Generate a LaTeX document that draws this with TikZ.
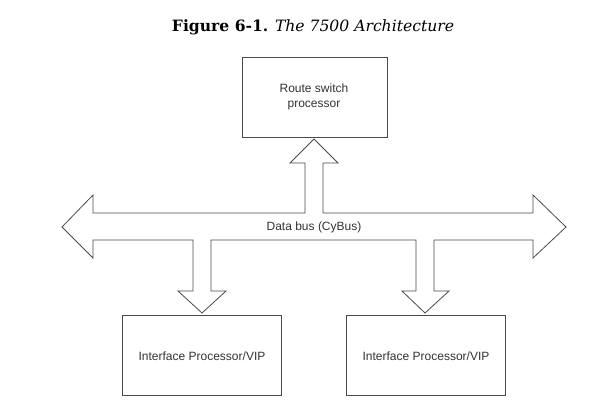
\documentclass[tikz,border=0pt]{standalone}
\usepackage{fontspec}
\newfontfamily\boxfont{Liberation Sans}
\newfontfamily\titlefont{DejaVu Serif}
\definecolor{linegray}{HTML}{4A4A4A}
\definecolor{textgray}{HTML}{333333}
\begin{document}
\begin{tikzpicture}[x=1pt,y=-1pt,
  unitbox/.style={draw=linegray,line width=0.8pt,fill=white,minimum width=#1,inner sep=0pt},
  boxtext/.style={font=\boxfont\fontsize{12}{14.7}\selectfont,text=textgray,align=center},
  busshape/.style={draw=linegray,line width=0.8pt,fill=white,line join=miter}]
\useasboundingbox (0,0) rectangle (598,416);
\node[font=\titlefont\fontsize{15.6}{18}\selectfont] (title) at (313,27.5) {\textbf{Figure 6-1.} \textit{The 7500 Architecture}};
\node[unitbox=145pt,minimum height=80pt] (rsp) at (314.5,97.5) {};
\node[boxtext] (rsptext) at (314,96.7) {Route switch\\processor};
\node[unitbox=159pt,minimum height=80pt] (ip1) at (202,355) {};
\node[boxtext] (ip1text) at (202,356.7) {Interface Processor/VIP};
\node[unitbox=159pt,minimum height=80pt] (ip2) at (426,355) {};
\node[boxtext] (ip2text) at (426,356.7) {Interface Processor/VIP};
\draw[busshape] (62,227) -- (93,195) -- (93,213) -- (305,213) -- (305,163) -- (290,163)
  -- (314,139) -- (338,163) -- (323,163) -- (323,213) -- (533,213) -- (533,195)
  -- (566,227) -- (533,258) -- (533,240) -- (434,240) -- (434,291) -- (449,291)
  -- (425,313) -- (402,291) -- (416,291) -- (416,240) -- (211,240) -- (211,291)
  -- (226,291) -- (202,313) -- (178,291) -- (193,291) -- (193,240) -- (93,240)
  -- (93,258) -- cycle;
\node[boxtext] (buslabel) at (314,227.7) {Data bus (CyBus)};
\end{tikzpicture}
\end{document}
